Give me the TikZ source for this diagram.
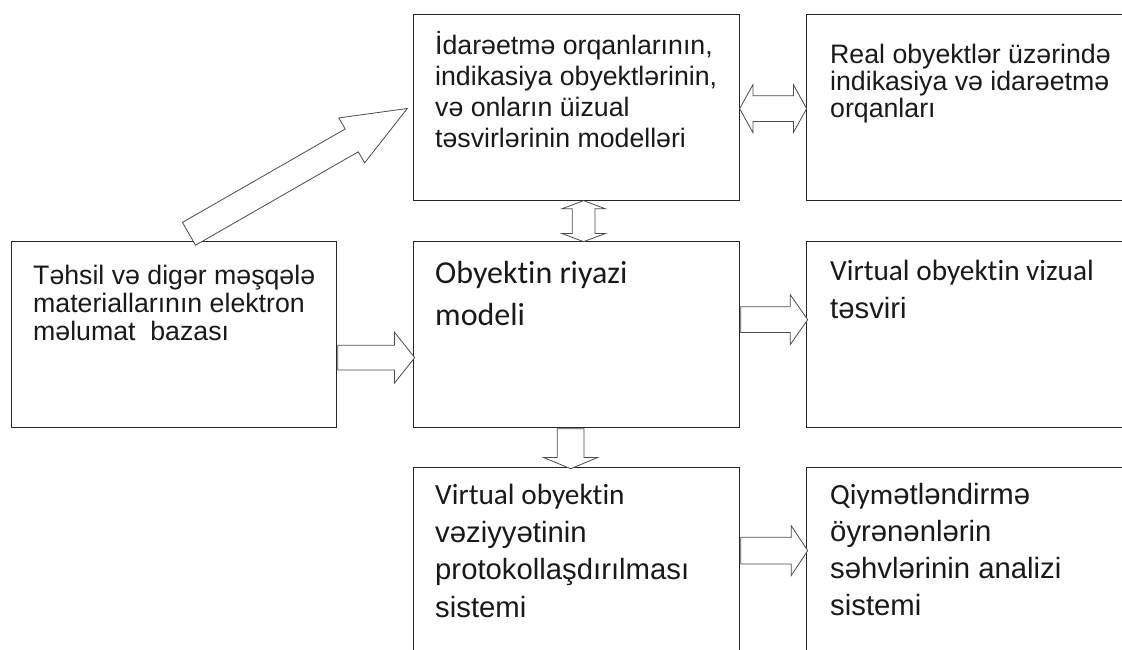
\documentclass[tikz,border=0pt]{standalone}
\usepackage{fontspec}
\setmainfont{Liberation Sans}
\newfontfamily\calfont[Ligatures=NoCommon]{Carlito}
\usetikzlibrary{positioning,calc,shapes.arrows}

\begin{document}
\begin{tikzpicture}[
    x=1pt, y=-1pt,
    box/.style={rectangle, draw=black!85, line width=1.3pt, minimum width=326pt, minimum height=186pt, anchor=north west, inner sep=0pt},
    txt/.style={anchor=base west, align=left, inner sep=0pt, text=black!90},
    arr/.style={single arrow, draw=black!70, fill=white, line width=0.8pt, inner xsep=0pt},
    darr/.style={double arrow, draw=black!70, fill=white, line width=0.8pt, inner xsep=0pt}
]
\useasboundingbox (0,0) rectangle (1122,649);
\clip (0,0) rectangle (1122,649);

% Boxes
\node[box, minimum width=325pt] (db) at (11,241) {};
\node[box] (models) at (413,14) {};
\node[box] (real) at (806,14) {};
\node[box] (math) at (413,241) {};
\node[box] (visual) at (806,241) {};
\node[box] (proto) at (413,467) {};
\node[box] (eval) at (806,467) {};

% Texts (placed at the baseline of their last line)
\node[txt, font=\fontsize{26.7}{28}\selectfont] (db_t) at (33,340)
  {Təhsil və digər məşqələ\\materiallarının elektron\\məlumat\ \ bazası};
\node[txt, font=\fontsize{26.7}{31}\selectfont] (models_t) at (435,147)
  {İdarəetmə orqanlarının,\\indikasiya obyektlərinin,\\və onların üizual\\təsvirlərinin modelləri};
\node[txt, font=\fontsize{26.7}{27}\selectfont] (real_t) at (830,117)
  {Real obyektlər üzərində\\indikasiya və idarəetmə\\orqanları};
\node[txt, font=\calfont\fontsize{32}{42}\selectfont] (math_t) at (435,325)
  {Obyektin riyazi\\modeli};
\node[txt, font=\fontsize{29.3}{38}\selectfont] (visual_t) at (830,318)
  {{\calfont Virtual obyektin vizual}\\təsviri};
\node[txt, font=\fontsize{29.3}{37.5}\selectfont] (proto_t) at (435,617)
  {{\calfont Virtual obyektin}\\vəziyyətinin\\protokollaşdırılması\\sistemi};
\node[txt, font=\fontsize{29.3}{37}\selectfont] (eval_t) at (830,615)
  {{\calfont Qiym}ətləndirmə\\öyrənənlərin\\səhvlərinin analizi\\sistemi};

% Block arrows
\path let \p1=([xshift=14.5pt,yshift=7pt]db.north), \p2=([xshift=-6pt,yshift=-1pt]models.west),
  \n1={atan2(\y2-\y1,\x2-\x1)}, \n2={veclen(\x2-\x1,\y2-\y1)} in
  node[arr, anchor=tail, rotate=\n1, minimum height=\n2, inner ysep=12.75pt,
    single arrow head extend=12.75pt, single arrow tip angle=44] (a_db_models) at (\p1) {};
\node[darr, minimum height=67pt, inner ysep=12.5pt, double arrow head extend=11pt,
  double arrow tip angle=122] (a_models_real) at ($(models.east)!0.5!(real.west)+(0,1)$) {};
\node[darr, rotate=90, minimum height=41pt, inner ysep=11pt,
  double arrow head extend=10.5pt, double arrow tip angle=139] (a_models_math)
  at ($(models.south)!0.5!(math.north)+(7,0)$) {};
\node[arr, anchor=tail, minimum height=77pt, inner ysep=12pt, single arrow head extend=13pt,
  single arrow tip angle=103] (a_db_math) at ([yshift=-23pt]db.east) {};
\node[arr, anchor=tail, minimum height=67pt, inner ysep=12.5pt, single arrow head extend=12pt,
  single arrow tip angle=110] (a_math_visual) at ([yshift=15pt]math.east) {};
\node[arr, anchor=tail, rotate=-90, minimum height=40pt, inner ysep=13pt,
  single arrow head extend=13.5pt, single arrow tip angle=135] (a_math_proto)
  at ([xshift=-6pt]math.south) {};
\node[arr, anchor=tail, minimum height=67pt, inner ysep=13pt, single arrow head extend=11.5pt,
  single arrow tip angle=113] (a_proto_eval) at ([yshift=10pt]proto.east) {};

\end{tikzpicture}
\end{document}
